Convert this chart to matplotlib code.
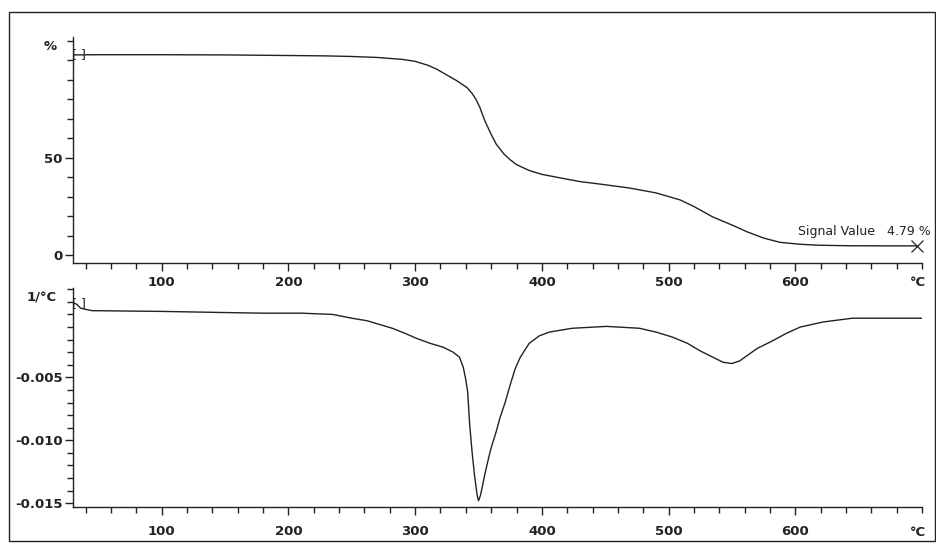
import numpy as np
import matplotlib.pyplot as plt
from matplotlib.patches import Rectangle
from matplotlib.ticker import MultipleLocator, FixedLocator

#
# データ
#
# TG 曲線: 温度 [°C] と 残存重量 [%]
tg_temp = [31, 50, 100, 150, 200, 230, 250, 270, 290, 300, 310, 317, 325, 333,
           341, 345, 348, 351, 355, 360, 364, 370, 375, 380, 390, 400, 420,
           430, 446, 469, 490, 509, 520, 535, 550, 562, 575, 588, 604, 620,
           643, 670, 696]
tg_val = [102.8, 102.9, 102.9, 102.8, 102.5, 102.3, 102.0, 101.5, 100.5, 99.5,
          97.5, 95.5, 92.5, 89.5, 86.0, 83.0, 80.0, 76.0, 69.0, 62.0, 57.0,
          52.0, 49.0, 46.5, 43.5, 41.5, 39.0, 37.8, 36.5, 34.5, 32.0, 28.4,
          25.0, 19.6, 15.5, 12.0, 8.8, 6.6, 5.6, 5.1, 4.85, 4.8, 4.79]

# DTG 曲線: 温度 [°C] と 微分値 [1/°C]
dtg_temp = [31, 33, 36, 40, 45, 100, 150, 180, 210, 235, 250, 262, 272, 282,
            292, 301, 312, 322, 330, 335, 338, 340, 341.5, 343, 345, 347, 349,
            350, 351.5, 353, 355, 358, 360, 364, 367, 371, 375, 379, 383, 390,
            398, 406, 424, 451, 477, 490, 503, 515, 525, 535, 543, 550, 556,
            563, 570, 582, 593, 604, 622, 645, 670, 700]
dtg_val = [0.0009, 0.0008, 0.0005, 0.0004, 0.0003, 0.00024, 0.00015, 0.0001,
           0.0001, 0.0, -0.0003, -0.0005, -0.0008, -0.0011, -0.0015, -0.0019,
           -0.0023, -0.0026, -0.0030, -0.0034, -0.0042, -0.0052, -0.0062,
           -0.0087, -0.0110, -0.0129, -0.0144, -0.0148, -0.0144, -0.0137,
           -0.0127, -0.0114, -0.0106, -0.0093, -0.0082, -0.0070, -0.0056,
           -0.0043, -0.0034, -0.0023, -0.0017, -0.0014, -0.0011, -0.00095,
           -0.0011, -0.0014, -0.0018, -0.0023, -0.0029, -0.0034, -0.0038,
           -0.0039, -0.0037, -0.0032, -0.0027, -0.0021, -0.0015, -0.0010,
           -0.0006, -0.0003, -0.0003, -0.0003]

# 目盛り
x_major = [100, 200, 300, 400, 500, 600]
tg_major = [0, 50]
dtg_major = [-0.015, -0.010, -0.005]
dtg_labels = ['-0.015', '-0.010', '-0.005']
signal_text = 'Signal Value   4.79 %'

#
# 描画
#
W, H = 936, 543
fig = plt.figure(figsize=(W / 100, H / 100), dpi=100)
ink = '#222222'
plt.rcParams['font.family'] = 'DejaVu Sans'


def fpos(left, top, right, bottom):
    return [left / W, 1 - bottom / H, (right - left) / W, (bottom - top) / H]


ax1 = fig.add_axes(fpos(73, 37, 922, 263))
ax2 = fig.add_axes(fpos(73, 288, 922, 507))

for ax in (ax1, ax2):
    for s in ('top', 'right'):
        ax.spines[s].set_visible(False)
    for s in ('left', 'bottom'):
        ax.spines[s].set_color(ink)
        ax.spines[s].set_linewidth(1.0)
    ax.set_xlim(30, 700)
    ax.xaxis.set_major_locator(FixedLocator(x_major))
    ax.xaxis.set_minor_locator(MultipleLocator(20))
    ax.tick_params(axis='both', which='major', direction='out', length=6,
                   width=1.0, color=ink, labelcolor=ink, labelsize=9.5)
    ax.tick_params(axis='both', which='minor', direction='out', length=4.3,
                   width=1.0, color=ink)
    ax.tick_params(axis='y', which='major', pad=1.5)
    for lab in ax.get_xticklabels() + ax.get_yticklabels():
        lab.set_fontweight('bold')

ax1.tick_params(axis='x', which='major', pad=3.5)
ax2.tick_params(axis='x', which='major', pad=7)

# TG
ax1.plot(tg_temp, tg_val, color=ink, lw=1.0)
ax1.set_ylim(-4, 112)
ax1.yaxis.set_major_locator(FixedLocator(tg_major))
ax1.yaxis.set_minor_locator(MultipleLocator(10))
ax1.plot(tg_temp[-1], tg_val[-1], marker='x', ms=8, mew=0.9, color=ink,
         clip_on=False)
ax1.text(1.01, 0.14, signal_text, transform=ax1.transAxes, ha='right',
         va='center', fontsize=9, color=ink, clip_on=False)
ax1.text(tg_temp[0] - 1.5, tg_val[0], '[ ]', fontsize=9, color=ink,
         va='center', ha='left', clip_on=False)

# DTG
ax2.plot(dtg_temp, dtg_val, color=ink, lw=1.0)
ax2.set_ylim(-0.0153, 0.0021)
ax2.yaxis.set_major_locator(FixedLocator(dtg_major))
ax2.set_yticklabels(dtg_labels)
ax2.yaxis.set_minor_locator(MultipleLocator(0.001))
ax2.text(dtg_temp[0] - 1.5, dtg_val[0], '[ ]', fontsize=9, color=ink,
         va='center', ha='left', clip_on=False)
for lab in ax2.get_yticklabels():
    lab.set_fontweight('bold')

# 単位ラベル
fig.text(50 / W, 1 - 47 / H, '%', ha='center', va='center', fontsize=9.5,
         fontweight='bold', color=ink)
fig.text(42 / W, 1 - 298 / H, '1/°C', ha='center', va='center', fontsize=9.5,
         fontweight='bold', color=ink)
fig.text(918 / W, 1 - 282 / H, '°C', ha='center', va='center', fontsize=9.5,
         fontweight='bold', color=ink)
fig.text(918 / W, 1 - 532 / H, '°C', ha='center', va='center', fontsize=9.5,
         fontweight='bold', color=ink)

# 外枠
fig.patches.append(Rectangle((9 / W, 1 - 541 / H), 926 / W, 529 / H,
                             transform=fig.transFigure, fill=False,
                             edgecolor=ink, lw=1.0))

fig.savefig('out.png', dpi=100)
